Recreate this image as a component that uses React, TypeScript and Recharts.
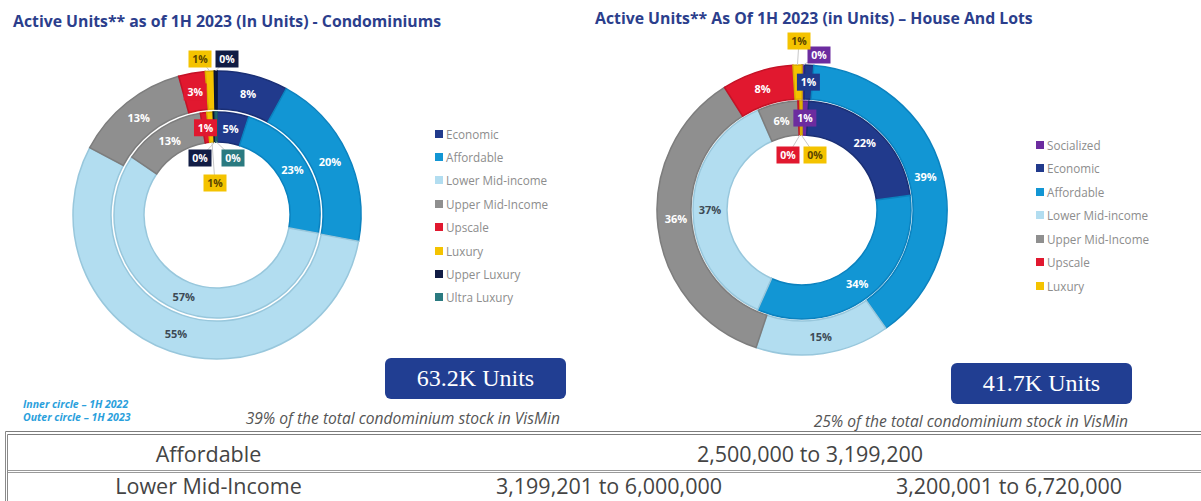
import React from "react";
import { PieChart, Pie, Legend } from "recharts";

const condoCategories = [
  "Economic",
  "Affordable",
  "Lower Mid-income",
  "Upper Mid-Income",
  "Upscale",
  "Luxury",
  "Upper Luxury",
  "Ultra Luxury",
];
const condo2022 = [5, 23, 57, 13, 1, 1, 0.3, 0.3];
const condo2023 = [8, 20, 55, 13, 3, 1, 0.3, 0];

const houseCategories = [
  "Socialized",
  "Economic",
  "Affordable",
  "Lower Mid-income",
  "Upper Mid-Income",
  "Upscale",
  "Luxury",
];
const house2022 = [1, 22, 34, 37, 6, 0.3, 0.3];
const house2023 = [0.3, 1, 39, 15, 36, 8, 1];

const tableRows = [
  ["Affordable", "2,500,000 to 3,199,200"],
  ["Lower Mid-Income", "3,199,201 to 6,000,000", "3,200,001 to 6,720,000"],
];

const colors: Record<string, string> = {
  Socialized: "#6c2c9f",
  Economic: "#213a8c",
  Affordable: "#1296d4",
  "Lower Mid-income": "#b2ddf0",
  "Upper Mid-Income": "#8f8f8f",
  Upscale: "#e1182f",
  Luxury: "#f4c300",
  "Upper Luxury": "#111c44",
  "Ultra Luxury": "#2a7a80",
};
const strokes: Record<string, string> = {
  Socialized: "#5a2288",
  Economic: "#1a2f75",
  Affordable: "#0b82bf",
  "Lower Mid-income": "#98c7dc",
  "Upper Mid-Income": "#7d7d7d",
  Upscale: "#c41226",
  Luxury: "#d9ad00",
  "Upper Luxury": "#0b1433",
  "Ultra Luxury": "#1e6066",
};

const rows = (cats: string[], vals: number[]) =>
  cats.map((name, i) => ({ name, value: vals[i], fill: colors[name], stroke: strokes[name] }));

const FONT = "'Open Sans', sans-serif";
const RAD = Math.PI / 180;

const inkFor = (name: string) =>
  name === "Lower Mid-income" ? "#3d4a55" : name === "Luxury" ? "#5a4500" : "#ffffff";

// callout boxes for tiny slices: offsets from the pie centre
function makeLabel(
  callouts: Record<string, [number, number]>,
  moved: Record<string, [number, number]> = {}
) {
  return (p: any) => {
    const { cx, cy, midAngle, innerRadius, outerRadius, value, name } = p;
    if (!value) return null;
    const shown = Math.round(value);
    const txt = `${shown}%`;
    const cos = Math.cos(-midAngle * RAD);
    const sin = Math.sin(-midAngle * RAD);
    const midR = (innerRadius + outerRadius) / 2;
    let x = cx + midR * cos;
    let y = cy + midR * sin;
    if (moved[name]) {
      x = cx + moved[name][0];
      y = cy + moved[name][1];
    }
    const c = callouts[name];
    if (shown > 3 && !c) {
      return (
        <text x={x} y={y} textAnchor="middle" dominantBaseline="central" fill={inkFor(name)} fontSize={11} fontWeight={700} fontFamily={FONT}>
          {txt}
        </text>
      );
    }
    let line = null;
    if (c) {
      const bx = cx + c[0];
      const by = cy + c[1];
      const r = Math.hypot(c[0], c[1]) > outerRadius ? outerRadius : innerRadius;
      line = <line x1={bx} y1={by} x2={cx + r * cos} y2={cy + r * sin} stroke="#c8c8c8" strokeWidth={1} />;
      x = bx;
      y = by;
    }
    return (
      <g>
        {line}
        <rect x={x - 11.5} y={y - 8.5} width={23} height={17} fill={colors[name]} />
        <text x={x} y={y} textAnchor="middle" dominantBaseline="central" fill={inkFor(name)} fontSize={10.5} fontWeight={700} fontFamily={FONT}>
          {txt}
        </text>
      </g>
    );
  };
}

function makeLegend(order: string[], step: number) {
  return (props: any) => {
    const seen = new Set<string>();
    const items = (props.payload || [])
      .filter((e: any) => {
        if (seen.has(e.value)) return false;
        seen.add(e.value);
        return true;
      })
      .sort((a: any, b: any) => order.indexOf(a.value) - order.indexOf(b.value));
    return (
      <div>
        {items.map((e: any) => (
          <div key={e.value} style={{ height: step, display: "flex", alignItems: "center", fontSize: 11.7, color: "#8d8d8d", fontFamily: FONT }}>
            <span style={{ width: 8, height: 8, background: colors[e.value], marginRight: 3, display: "inline-block" }} />
            {e.value}
          </div>
        ))}
      </div>
    );
  };
}

const titleStyle: React.CSSProperties = {
  position: "absolute",
  fontFamily: FONT,
  fontWeight: 700,
  fontSize: 15.8,
  color: "#2b3e8c",
  whiteSpace: "nowrap",
  lineHeight: "20px",
};
const unitBox: React.CSSProperties = {
  position: "absolute",
  width: 181,
  height: 41,
  borderRadius: 6,
  background: "#213e92",
  color: "#fff",
  fontFamily: "'Liberation Serif', serif",
  fontSize: 24,
  display: "flex",
  alignItems: "center",
  justifyContent: "center",
};
const subStyle: React.CSSProperties = {
  position: "absolute",
  fontFamily: FONT,
  fontStyle: "italic",
  fontSize: 15.6,
  color: "#555",
  whiteSpace: "nowrap",
  textAlign: "right",
  lineHeight: "18px",
};
const noteStyle: React.CSSProperties = {
  position: "absolute",
  left: 23,
  fontFamily: FONT,
  fontStyle: "italic",
  fontWeight: 700,
  fontSize: 10.5,
  color: "#2aa0dc",
  lineHeight: "13px",
  whiteSpace: "nowrap",
};
const cellStyle: React.CSSProperties = {
  position: "absolute",
  fontFamily: FONT,
  fontSize: 21.5,
  color: "#444",
  textAlign: "center",
  lineHeight: "22px",
  whiteSpace: "nowrap",
};

export default function App() {
  return (
    <div style={{ position: "absolute", left: 0, top: 0, width: 1201, height: 501, overflow: "hidden", background: "#fff" }}>
      <div style={{ ...titleStyle, left: 13, top: 11 }}>Active Units** as of 1H 2023 (In Units) - Condominiums</div>
      <div style={{ ...titleStyle, left: 595, top: 8 }}>Active Units** As Of 1H 2023 (in Units) – House And Lots</div>

      <div style={{ position: "absolute", left: 0, top: 0 }}>
        <PieChart width={590} height={430} margin={{ top: 0, right: 0, bottom: 0, left: 0 }}>
          <Pie
            data={rows(condoCategories, condo2022)}
            dataKey="value"
            nameKey="name"
            cx={217}
            cy={215}
            innerRadius={73}
            outerRadius={103}
            startAngle={90}
            endAngle={-270}
            strokeWidth={1.5}
            labelLine={false}
            label={makeLabel({ Luxury: [-2, -32], "Upper Luxury": [-17, -57], "Ultra Luxury": [16, -57] })}
            isAnimationActive={false}
          />
          <Pie
            data={rows(condoCategories, condo2023)}
            dataKey="value"
            nameKey="name"
            cx={217}
            cy={215}
            innerRadius={106}
            outerRadius={144}
            startAngle={90}
            endAngle={-270}
            strokeWidth={1.5}
            labelLine={false}
            label={makeLabel({ Luxury: [-17, -156], "Upper Luxury": [10, -156] })}
            isAnimationActive={false}
          />
          <Legend
            layout="vertical"
            align="right"
            verticalAlign="top"
            content={makeLegend(condoCategories, 23.4)}
            wrapperStyle={{ left: 435, top: 122, width: 160, right: "auto" }}
          />
        </PieChart>
      </div>

      <div style={{ position: "absolute", left: 590, top: 0 }}>
        <PieChart width={611} height={430} margin={{ top: 0, right: 0, bottom: 0, left: 0 }}>
          <Pie
            data={rows(houseCategories, house2022)}
            dataKey="value"
            nameKey="name"
            cx={212}
            cy={210}
            innerRadius={75}
            outerRadius={109}
            startAngle={90}
            endAngle={-270}
            strokeWidth={1.5}
            labelLine={false}
            label={makeLabel({ Upscale: [-14, -55], Luxury: [13, -55] })}
            isAnimationActive={false}
          />
          <Pie
            data={rows(houseCategories, house2023)}
            dataKey="value"
            nameKey="name"
            cx={212}
            cy={210}
            innerRadius={111}
            outerRadius={145}
            startAngle={90}
            endAngle={-270}
            strokeWidth={1.5}
            labelLine={false}
            label={makeLabel({ Luxury: [-3, -169], Socialized: [17, -155] }, { "Upper Mid-Income": [-126, 8] })}
            isAnimationActive={false}
          />
          <Legend
            layout="vertical"
            align="right"
            verticalAlign="top"
            content={makeLegend(houseCategories, 23.5)}
            wrapperStyle={{ left: 446, top: 133, width: 160, right: "auto" }}
          />
        </PieChart>
      </div>

      <div style={{ ...unitBox, left: 385, top: 358 }}>63.2K Units</div>
      <div style={{ ...unitBox, left: 951, top: 363 }}>41.7K Units</div>
      <div style={{ ...subStyle, right: 1201 - 560, top: 409 }}>39% of the total condominium stock in VisMin</div>
      <div style={{ ...subStyle, right: 1201 - 1128, top: 412 }}>25% of the total condominium stock in VisMin</div>
      <div style={{ ...noteStyle, top: 398 }}>Inner circle – 1H 2022</div>
      <div style={{ ...noteStyle, top: 411 }}>Outer circle – 1H 2023</div>

      <div style={{ position: "absolute", left: 5, top: 431, width: 1196, height: 80, borderTop: "4px double #7d7d7d", borderLeft: "3px double #8a8a8a" }} />
      <div style={{ position: "absolute", left: 8, top: 470, width: 1193, height: 0, borderTop: "3px double #9a9a9a" }} />
      <div style={{ ...cellStyle, left: 7, width: 403, top: 443 }}>{tableRows[0][0]}</div>
      <div style={{ ...cellStyle, left: 410, width: 800, top: 443 }}>{tableRows[0][1]}</div>
      <div style={{ ...cellStyle, left: 7, width: 403, top: 475 }}>{tableRows[1][0]}</div>
      <div style={{ ...cellStyle, left: 410, width: 398, top: 475 }}>{tableRows[1][1]}</div>
      <div style={{ ...cellStyle, left: 808, width: 402, top: 475 }}>{tableRows[1][2]}</div>
    </div>
  );
}
